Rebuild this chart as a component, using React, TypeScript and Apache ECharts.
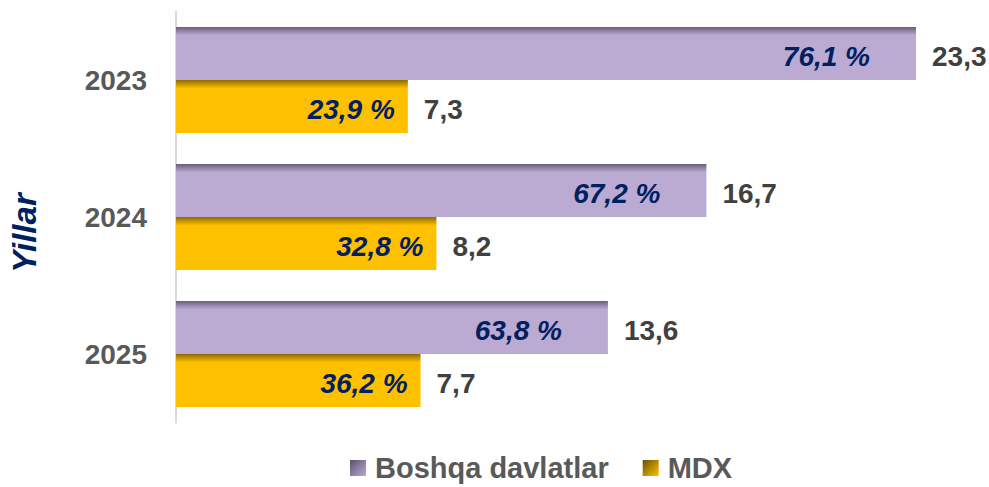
import React, { useEffect, useRef } from "react";
import * as echarts from "echarts";

const categories = ["2023", "2024", "2025"];
const otherValues = [23.3, 16.7, 13.6];
const mdxValues = [7.3, 8.2, 7.7];
const otherShares = ["76,1 %", "67,2 %", "63,8 %"];
const mdxShares = ["23,9 %", "32,8 %", "36,2 %"];
const seriesNames = ["Boshqa davlatlar", "MDX"];
const axisName = "Yillar";

const fmt = (v: number) => v.toFixed(1).replace(".", ",");

export default function App() {
  const ref = useRef<HTMLDivElement>(null);
  useEffect(() => {
    if (!ref.current) return;
    document.body.style.margin = "0";
    const chart = echarts.init(ref.current, undefined, { renderer: "svg" });
    const vgrad = (dark: string, base: string) =>
      new echarts.graphic.LinearGradient(0, 0, 0, 1, [
        { offset: 0, color: dark },
        { offset: 0.16, color: base },
        { offset: 1, color: base },
      ]);
    const dgrad = (dark: string, light: string) =>
      new echarts.graphic.LinearGradient(0, 0, 1, 1, [
        { offset: 0, color: dark },
        { offset: 1, color: light },
      ]);
    const font = "'Liberation Sans', Arial, sans-serif";
    const makeSeries = (
      name: string,
      values: number[],
      shares: string[],
      color: any,
      inDist: number
    ) => ({
      name,
      type: "bar",
      barGap: "0%",
      barCategoryGap: "22.6%",
      itemStyle: { color },
      data: values.map((v, i) => ({
        value: v,
        label: {
          show: true,
          position: "insideRight",
          distance: inDist,
          offset: [0, 3],
          formatter: shares[i],
          color: "#002060",
          fontSize: 28,
          fontWeight: "bold",
          fontStyle: "italic",
          fontFamily: font,
        },
      })),
    });
    const purple = vgrad("#6c5d7e", "#bbabd3");
    const gold = vgrad("#8c6a00", "#ffc000");
    const option: any = {
      animation: false,
      grid: { left: 176, right: 19, top: 11.5, bottom: 64.5, containLabel: false },
      legend: {
        top: 452,
        left: 350,
        padding: 0,
        itemWidth: 16,
        itemHeight: 16,
        itemGap: 34,
        icon: "rect",
        textStyle: {
          color: "#595959",
          fontSize: 29,
          lineHeight: 32,
          fontWeight: "bold",
          fontFamily: font,
          padding: [0, 0, 0, 4],
        },
        data: [
          { name: seriesNames[0], itemStyle: { color: dgrad("#5d4e70", "#bbabd3") } },
          { name: seriesNames[1], itemStyle: { color: dgrad("#6b5100", "#ffc000") } },
        ],
      },
      graphic: [
        {
          type: "text",
          x: 24,
          y: 233,
          rotation: Math.PI / 2,
          style: {
            text: axisName,
            fill: "#002060",
            font: `italic bold 33px ${font}`,
            textAlign: "center",
            textVerticalAlign: "middle",
          },
        },
      ],
      xAxis: {
        type: "value",
        min: 0,
        max: 25,
        show: false,
      },
      yAxis: {
        type: "category",
        data: categories,
        inverse: true,
        axisLine: { show: true, lineStyle: { color: "#d9d9d9", width: 2 } },
        axisTick: { show: false },
        axisLabel: {
          color: "#595959",
          fontSize: 28,
          fontWeight: "bold",
          fontFamily: font,
          margin: 29,
        },
        splitLine: { show: false },
      },
      series: [
        makeSeries(seriesNames[0], otherValues, otherShares, purple, 46),
        makeSeries(seriesNames[1], mdxValues, mdxShares, gold, 13),
        {
          type: "custom",
          name: "__values",
          silent: true,
          legendHoverLink: false,
          renderItem: (params: any, api: any) => {
            const idx = params.dataIndex;
            const cat = api.value(0);
            const v1 = otherValues[idx];
            const v2 = mdxValues[idx];
            const band = api.size([0, 1])[1];
            const barH = (band * (1 - 0.226)) / 2;
            const c = api.coord([0, cat]);
            const p1 = api.coord([v1, cat]);
            const p2 = api.coord([v2, cat]);
            const style = {
              fill: "#404040",
              font: `bold 28px ${font}`,
              textAlign: "left",
              textVerticalAlign: "middle",
            };
            return {
              type: "group",
              children: [
                {
                  type: "text",
                  x: p1[0] + 16,
                  y: c[1] - barH / 2 + 3,
                  style: { ...style, text: fmt(v1) },
                },
                {
                  type: "text",
                  x: p2[0] + 16,
                  y: c[1] + barH / 2 + 3,
                  style: { ...style, text: fmt(v2) },
                },
              ],
            };
          },
          data: categories.map((_, i) => [i]),
          encode: { y: 0 },
          z: 10,
        },
      ],
    };
    chart.setOption(option);
    return () => chart.dispose();
  }, []);
  return <div ref={ref} style={{ width: 989, height: 487 }} />;
}
